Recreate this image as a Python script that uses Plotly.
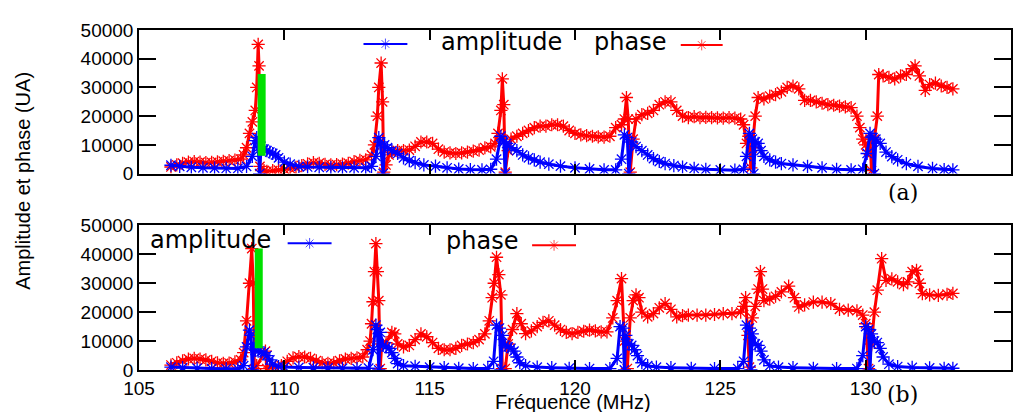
import plotly.graph_objects as go

# Valores (fréquence en MHz, amplitude/phase en UA)

# Panel (a) - phase
f_phase_a = [106.1, 106.3, 106.5, 106.7, 106.9, 107.1, 107.3, 107.5, 107.7, 107.9,
             108.1, 108.3, 108.5, 108.6, 108.7, 108.8, 108.9, 109.0, 109.05, 109.1,
             109.13, 109.16, 109.3, 109.4, 109.6, 109.8, 110.0, 110.2, 110.4, 110.6,
             110.8, 111.0, 111.2, 111.4, 111.6, 111.8, 112.0, 112.2, 112.4, 112.6,
             112.8, 113.0, 113.1, 113.2, 113.25, 113.33, 113.38, 113.42, 113.5, 113.6,
             113.7, 113.9, 114.1, 114.3, 114.5, 114.7, 114.9, 115.1, 115.3, 115.5,
             115.7, 115.9, 116.1, 116.3, 116.5, 116.7, 116.9, 117.1, 117.25, 117.35,
             117.45, 117.5, 117.55, 117.6, 117.7, 117.8, 118.0, 118.2, 118.4, 118.6,
             118.8, 119.0, 119.2, 119.4, 119.6, 119.8, 120.0, 120.2, 120.4, 120.6,
             120.8, 121.0, 121.2, 121.4, 121.6, 121.7, 121.77, 121.83, 121.9, 122.0,
             122.1, 122.3, 122.5, 122.7, 122.9, 123.1, 123.3, 123.5, 123.7, 123.9,
             124.1, 124.3, 124.5, 124.7, 124.9, 125.1, 125.3, 125.5, 125.7, 125.8,
             125.9, 125.98, 126.05, 126.1, 126.2, 126.3, 126.5, 126.7, 126.9, 127.1,
             127.3, 127.5, 127.7, 127.9, 128.1, 128.3, 128.5, 128.7, 128.9, 129.1,
             129.3, 129.5, 129.7, 129.8, 129.9, 130.0, 130.1, 130.15, 130.2, 130.3,
             130.4, 130.45, 130.6, 130.8, 131.0, 131.2, 131.4, 131.6, 131.7, 131.85,
             132.05, 132.2, 132.4, 132.6, 132.8, 133.0]
phase_a = [2300, 3000, 3600, 4000, 4200, 4000, 3800, 3900, 4100, 4300,
           4500, 4700, 5000, 6500, 9000, 14000, 18000, 22000, 30000, 45000,
           37500, 2500, 1000, 800, 1000, 1200, 1500, 1800, 2200, 2800,
           3400, 3800, 3600, 3200, 3000, 3100, 3300, 3600, 4200, 4600,
           4800, 6500, 10000, 20000, 30000, 38500, 25000, 500, 3000, 6500,
           7500, 8000, 8000, 8200, 9500, 11000, 11000, 10500, 8500, 7500,
           7200, 7000, 7200, 7500, 7800, 8200, 9000, 9300, 10500, 14000,
           22000, 33000, 24000, 500, 8000, 12000, 13000, 14000, 15000, 16000,
           16500, 16500, 17000, 17000, 16500, 15000, 14000, 13500, 13200, 13000,
           12800, 12700, 13000, 16000, 17000, 19000, 26500, 19000, 500, 12000,
           19000, 20500, 21000, 22000, 24000, 25000, 25000, 22000, 20000, 19500,
           19800, 19500, 19600, 19500, 19400, 19300, 19500, 19300, 19000, 17000,
           10500, 13000, 2000, 9000, 20000, 26500, 26000, 27000, 27500, 28500,
           30000, 30500, 29500, 25500, 25500, 25000, 24500, 24000, 23800, 23500,
           23200, 23000, 20000, 16000, 12000, 10000, 8000, 12000, 1000, 12000,
           20000, 34500, 34000, 33500, 33000, 34000, 34500, 36500, 37500, 34000,
           29000, 31000, 31500, 30500, 30000, 29500]

# Panel (a) - amplitude
f_amp_a = [106.1, 106.4, 106.8, 107.2, 107.6, 108.0, 108.4, 108.7, 108.9, 109.0,
           109.05, 109.1, 109.15, 109.2, 109.3, 109.4, 109.5, 109.6, 109.7, 109.8,
           110.0, 110.2, 110.5, 110.8, 111.2, 111.6, 112.0, 112.4, 112.8, 113.0,
           113.15, 113.25, 113.3, 113.4, 113.45, 113.55, 113.7, 113.9, 114.1, 114.3,
           114.5, 114.8, 115.2, 115.6, 116.0, 116.4, 116.8, 117.1, 117.3, 117.45,
           117.55, 117.6, 117.65, 117.8, 118.0, 118.2, 118.4, 118.6, 118.8, 119.1,
           119.5, 120.0, 120.5, 121.0, 121.4, 121.6, 121.7, 121.8, 121.85, 121.95,
           122.1, 122.3, 122.5, 122.7, 122.9, 123.1, 123.4, 123.7, 124.1, 124.5,
           125.0, 125.5, 125.8, 125.9, 126.0, 126.1, 126.15, 126.2, 126.3, 126.4,
           126.5, 126.7, 126.9, 127.1, 127.5, 128.0, 128.5, 129.0, 129.5, 129.9,
           130.05, 130.15, 130.25, 130.3, 130.35, 130.5, 130.7, 130.9, 131.1, 131.4,
           131.8, 132.3, 132.7, 133.0]
amp_a = [2900, 2500, 2200, 2000, 1900, 1800, 1800, 2500, 6000, 11500,
         12500, 9000, 0, 9500, 8500, 8000, 7500, 7000, 6500, 5500,
         4000, 3300, 2500, 2300, 2200, 2100, 2000, 2000, 2000, 2500,
         6000, 12500, 11000, 0, 10000, 9000, 8000, 7000, 5500, 4500,
         3800, 3000, 2600, 2000, 1600, 1400, 1300, 1500, 5000, 13000,
         11000, 0, 10500, 9000, 8000, 6500, 5500, 4800, 4000, 3300,
         2600, 2000, 1600, 1300, 1300, 5000, 13500, 12500, 0, 11000,
         9400, 8000, 6500, 5200, 4200, 3500, 2800, 2300, 1800, 1500,
         1300, 1200, 1500, 6000, 14000, 12000, 0, 11000, 10500, 8000,
         6000, 4800, 4000, 3500, 3000, 2500, 2000, 1500, 1300, 1500,
         7000, 14000, 12500, 0, 12000, 10500, 7500, 5900, 4800, 3500,
         2500, 1800, 1400, 1300]

# Panel (b) - phase
f_phase_b = [106.1, 106.3, 106.5, 106.7, 106.9, 107.1, 107.3, 107.5, 107.7, 107.9,
             108.1, 108.3, 108.5, 108.6, 108.7, 108.8, 108.88, 108.93, 108.97, 109.05,
             109.35, 109.4, 109.5, 109.7, 109.9, 110.1, 110.3, 110.5, 110.7, 110.9,
             111.1, 111.3, 111.5, 111.7, 111.9, 112.1, 112.3, 112.5, 112.7, 112.85,
             112.95, 113.0, 113.05, 113.1, 113.15, 113.2, 113.25, 113.3, 113.35, 113.5,
             113.7, 113.8, 113.9, 114.1, 114.3, 114.5, 114.7, 114.9, 115.1, 115.3,
             115.5, 115.7, 115.9, 116.1, 116.3, 116.5, 116.7, 116.9, 117.05, 117.15,
             117.22, 117.3, 117.38, 117.45, 117.5, 117.6, 117.7, 117.85, 118.0, 118.15,
             118.3, 118.5, 118.7, 118.9, 119.1, 119.3, 119.5, 119.7, 119.9, 120.1,
             120.3, 120.5, 120.7, 120.9, 121.1, 121.3, 121.45, 121.6, 121.7, 121.8,
             121.9, 122.0, 122.1, 122.2, 122.3, 122.5, 122.7, 122.9, 123.1, 123.3,
             123.5, 123.7, 123.9, 124.2, 124.5, 124.8, 125.1, 125.4, 125.7, 125.8,
             125.87, 125.95, 126.0, 126.1, 126.2, 126.3, 126.38, 126.45, 126.5, 126.7,
             126.9, 127.1, 127.35, 127.55, 127.7, 127.9, 128.2, 128.5, 128.8, 129.1,
             129.4, 129.7, 129.9, 130.0, 130.1, 130.2, 130.3, 130.4, 130.55, 130.7,
             130.9, 131.1, 131.3, 131.45, 131.6, 131.75, 131.85, 131.95, 132.2, 132.5,
             132.8, 133.0]
phase_b = [1700, 2500, 3200, 3800, 4000, 3800, 3500, 3000, 2500, 2300,
           2400, 2800, 3500, 6000, 17000, 30000, 42000, 30000, 500, 1500,
           6500, 500, 1000, 1000, 1500, 3000, 4200, 4600, 4500, 4000,
           3200, 2500, 2300, 2500, 3200, 3800, 4000, 4200, 4500, 7000,
           10000, 16000, 23600, 34000, 43700, 34000, 24000, 500, 9000, 9500,
           13000, 12500, 9000, 8000, 8500, 10500, 12500, 11500, 9500, 7500,
           7000, 7000, 7500, 8500, 9000, 9500, 10500, 12500, 17000, 25000,
           30000, 39000, 33000, 26000, 500, 500, 9000, 14000, 19500, 16000,
           12600, 13500, 15000, 16500, 17000, 15500, 14000, 13000, 12600, 13000,
           13400, 13800, 13500, 13200, 13200, 18000, 24000, 31600, 10000, 500,
           18000, 24000, 26000, 25000, 20000, 18400, 19500, 21500, 23000, 21000,
           18400, 18800, 19000, 19000, 19000, 19200, 19500, 19500, 20000, 22000,
           25000, 12000, 1000, 18000, 22000, 28000, 34000, 28000, 24000, 24500,
           25500, 27000, 29000, 25000, 21800, 22500, 23500, 23500, 23000, 21000,
           20700, 20500, 19000, 16000, 500, 9000, 20000, 27600, 38500, 31000,
           31500, 30500, 29500, 30500, 34000, 34500, 30000, 26400, 26000, 25800,
           26200, 26500]

# Panel (b) - amplitude
f_amp_b = [106.1, 106.5, 107.0, 107.5, 108.0, 108.4, 108.6, 108.7, 108.8, 108.85,
           108.9, 108.95, 109.0, 109.1, 109.2, 109.3, 109.4, 109.5, 109.6, 109.8,
           110.0, 110.5, 111.0, 111.5, 112.0, 112.5, 112.9, 113.05, 113.15, 113.2,
           113.25, 113.3, 113.4, 113.5, 113.6, 113.7, 113.8, 113.9, 114.1, 114.5,
           115.0, 115.5, 116.0, 116.5, 117.0, 117.2, 117.3, 117.4, 117.45, 117.5,
           117.6, 117.7, 117.8, 117.9, 118.0, 118.1, 118.3, 118.7, 119.2, 119.8,
           120.5, 121.2, 121.45, 121.55, 121.65, 121.7, 121.75, 121.85, 121.95, 122.05,
           122.15, 122.3, 122.5, 122.8, 123.3, 124.0, 124.8, 125.6, 125.8, 125.9,
           126.0, 126.05, 126.1, 126.2, 126.3, 126.4, 126.5, 126.7, 127.0, 127.5,
           128.2, 129.0, 129.7, 129.9, 130.0, 130.1, 130.15, 130.2, 130.3, 130.4,
           130.5, 130.6, 130.8, 131.1, 131.6, 132.2, 132.7, 133.0]
amp_b = [1000, 800, 600, 500, 400, 400, 1500, 8000, 13800, 12000,
         0, 9000, 6800, 6500, 6300, 6000, 5000, 3500, 2000, 1200,
         1000, 900, 800, 700, 600, 500, 600, 7000, 15500, 14000,
         0, 13000, 8500, 8000, 7500, 6000, 4000, 2200, 1500, 1300,
         1000, 800, 600, 500, 500, 3000, 15500, 14500, 0, 12000,
         8500, 8000, 7500, 6500, 4500, 2500, 1500, 1000, 800, 600,
         500, 500, 4000, 15000, 14500, 0, 12000, 9000, 8500, 7000,
         5000, 2500, 1500, 1000, 800, 600, 500, 500, 3000, 15500,
         14500, 0, 12500, 9000, 8500, 6500, 3500, 1500, 1000, 800,
         600, 500, 500, 5000, 15000, 14000, 0, 12500, 10000, 9500,
         7500, 4500, 2000, 1200, 900, 700, 600, 600]

# Barre verte (sans légende)
f_green_a = [109.22, 109.22]
green_a = [34700, 6200]
f_green_b = [109.12, 109.12]
green_b = [42000, 7500]

x_ticks = [105, 110, 115, 120, 125, 130, 135]
y_ticks = [0, 10000, 20000, 30000, 40000, 50000]

RED = "#ff0000"
BLUE = "#0000ff"
GREEN = "#00e000"
FONT = "Liberation Sans, Arial, sans-serif"

# A página tem 8 px de margem no body: a figura é reduzida para compensar
PAGE_OFFSET = 8
# Área de plotagem (pixels da página)
PLOT_L, PLOT_R, PLOT_T, PLOT_B = 139, 1013, 29, 370


def to_paper(px, py):
    # Converte pixels da página em coordenadas "paper"
    return (px - PLOT_L) / (PLOT_R - PLOT_L), (PLOT_B - py) / (PLOT_B - PLOT_T)


def curve(x, y, color, xa, ya):
    return go.Scatter(
        x=x, y=y, mode="lines+markers", xaxis=xa, yaxis=ya,
        line=dict(color=color, width=3),
        marker=dict(symbol="asterisk-open", size=11, color=color,
                    line=dict(color=color, width=1.3)),
        showlegend=False, hoverinfo="skip",
    )


fig = go.Figure()

# Painel (a)
fig.add_trace(curve(f_phase_a, phase_a, RED, "x", "y"))
fig.add_trace(curve(f_amp_a, amp_a, BLUE, "x", "y"))
fig.add_trace(go.Scatter(x=f_green_a, y=green_a, mode="lines", xaxis="x", yaxis="y",
                         line=dict(color=GREEN, width=8), showlegend=False, hoverinfo="skip"))

# Painel (b)
fig.add_trace(curve(f_phase_b, phase_b, RED, "x2", "y2"))
fig.add_trace(curve(f_amp_b, amp_b, BLUE, "x2", "y2"))
fig.add_trace(go.Scatter(x=f_green_b, y=green_b, mode="lines", xaxis="x2", yaxis="y2",
                         line=dict(color=GREEN, width=8), showlegend=False, hoverinfo="skip"))

# Légendes façon gnuplot (axe de superposition en pixels de la page)
legend_items = [
    # (x_debut, x_fin, y, couleur)
    (364, 408, 43, BLUE), (682, 724, 44, RED),
    (288, 332, 243, BLUE), (533, 577, 245, RED),
]
for x0, x1, yy, col in legend_items:
    fig.add_trace(go.Scatter(
        x=[x0, (x0 + x1) / 2, x1], y=[yy, yy, yy], mode="lines+markers",
        xaxis="x3", yaxis="y3", line=dict(color=col, width=2),
        marker=dict(symbol="asterisk-open", size=[0, 9, 0], color=col,
                    line=dict(color=col, width=1)),
        showlegend=False, hoverinfo="skip", cliponaxis=False,
    ))


def add_text(text, px, py, font, xanchor="center", **kw):
    ax, ay = to_paper(px, py)
    fig.add_annotation(text=text, x=ax, y=ay, xref="paper", yref="paper",
                       xanchor=xanchor, yanchor="middle",
                       showarrow=False, font=font, **kw)


legend_font = dict(family="DejaVu Sans, sans-serif", size=24, color="black")
add_text("amplitude", 440, 41, legend_font, xanchor="left")
add_text("phase", 593, 41, legend_font, xanchor="left")
add_text("amplitude", 148, 240, legend_font, xanchor="left")
add_text("phase", 445, 241, legend_font, xanchor="left")

serif = dict(family="DejaVu Serif, serif", size=22, color="black")
add_text("(a)", 905, 192, serif)
add_text("(b)", 904, 395, serif)

title_font = dict(family=FONT, size=20, color="black")
add_text("Fréquence (MHz)", 574, 402, title_font)
add_text("Amplitude et phase (UA)", 22, 180, title_font, textangle=-90)

axis_style = dict(
    ticks="inside", tickwidth=1.5, tickcolor="black", showline=True, linecolor="black",
    linewidth=1.5, mirror="ticks", showgrid=False, zeroline=False,
    tickfont=dict(family=FONT, size=19, color="black"),
)
x_style = dict(axis_style, range=[105, 135], tickvals=x_ticks, ticklen=10)
y_style = dict(axis_style, range=[0, 50000], tickvals=y_ticks, ticklen=17, tickformat="d")

fig.update_layout(
    width=1025 - PAGE_OFFSET, height=412 - PAGE_OFFSET,
    margin=dict(l=PLOT_L - PAGE_OFFSET, r=1025 - PLOT_R, t=PLOT_T - PAGE_OFFSET, b=412 - PLOT_B),
    paper_bgcolor="white", plot_bgcolor="rgba(0,0,0,0)",
    showlegend=False,
    xaxis=dict(x_style, domain=[0, 1], anchor="y", showticklabels=False),
    yaxis=dict(y_style, domain=[0.5777, 1], anchor="x"),
    xaxis2=dict(x_style, domain=[0, 1], anchor="y2"),
    yaxis2=dict(y_style, domain=[0, 0.4252], anchor="x2"),
    xaxis3=dict(domain=[0, 1], anchor="y3", range=[PLOT_L, PLOT_R], visible=False),
    yaxis3=dict(domain=[0, 1], anchor="x3", range=[PLOT_B, PLOT_T], visible=False),
)

fig.write_html("out.html")
